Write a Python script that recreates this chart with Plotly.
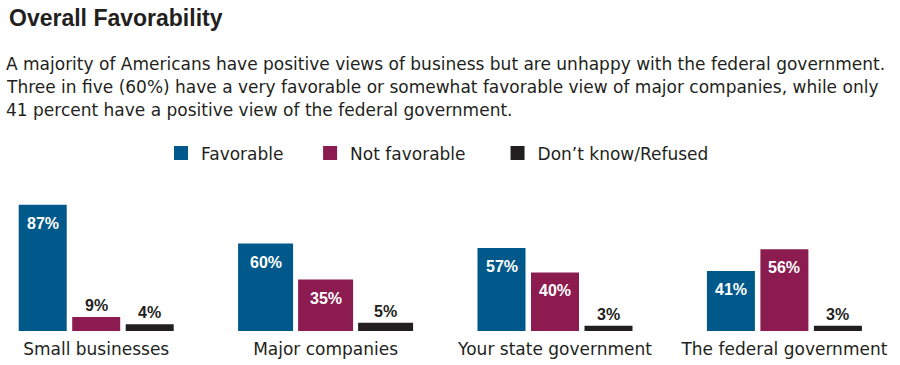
import plotly.graph_objects as go

# ---------------- data ----------------
categories = ["Small businesses", "Major companies", "Your state government", "The federal government"]
series_names = ["Favorable", "Not favorable", "Don\u2019t know/Refused"]
favorable = [87, 60, 57, 41]
not_favorable = [9, 35, 40, 56]
dont_know = [4, 5, 3, 3]
series_values = [favorable, not_favorable, dont_know]

title_text = "Overall Favorability"
subtitle_lines = [
    "A majority of Americans have positive views of business but are unhappy with the federal government.",
    "Three in five (60%) have a very favorable or somewhat favorable view of major companies, while only",
    "41 percent have a positive view of the federal government.",
]

# ---------------- style ----------------
colors = ["#00598A", "#8C1C4F", "#231F20"]
TEXT = "#231F20"
BODY_FONT = "DejaVu Sans"
W, H = 900, 365
PLOT_TOP, PLOT_BOTTOM = 187, 331          # pixel rows of 100% and 0%
U = 229.4                                 # pixels per category step
X0 = 96.2                                 # pixel of first category
LINE_W = 2                                # bar outline (same colour) -> bigger legend swatch
bar_w_px = [48, 55, 48, 48]               # visible bar width per group
slot_px = [53.5, 60, 53.5, 53.5]          # centre-to-centre distance per group
legend_pad = ["\u00a0" * 4, "\u00a0" * 5, ""]


def py(px):
    """pixel row -> paper y"""
    return (PLOT_BOTTOM - px) / (PLOT_BOTTOM - PLOT_TOP)


fig = go.Figure()
xs = list(range(len(categories)))
for k, (name, vals) in enumerate(zip(series_names, series_values)):
    widths = [(w - LINE_W) / U for w in bar_w_px]
    offsets = [((k - 1) * s - (w - LINE_W) / 2) / U for s, w in zip(slot_px, bar_w_px)]
    fig.add_trace(go.Bar(
        x=xs, y=vals, name=name + legend_pad[k],
        width=widths, offset=offsets,
        marker=dict(color=colors[k], line=dict(width=LINE_W, color=colors[k])),
        hoverinfo="skip",
    ))
    for i, v in enumerate(vals):
        xc = i + (k - 1) * slot_px[i] / U
        inside = v >= 20
        fig.add_annotation(
            x=xc, y=v, xref="x", yref="y",
            text=f"<b>{v}%</b>", showarrow=False,
            xanchor="center", yanchor="top" if inside else "bottom",
            yshift=-7 if inside else 2,
            font=dict(family="Liberation Sans, Arial", size=16,
                      color="white" if inside else TEXT),
        )

# title
fig.add_annotation(
    x=7 / W, y=py(3), xref="paper", yref="paper", xanchor="left", yanchor="top",
    text=f"<b>{title_text}</b>", showarrow=False,
    font=dict(family="Liberation Sans Narrow, Liberation Sans, Arial", size=23, color=TEXT),
)
# subtitle, one annotation per line
for j, line in enumerate(subtitle_lines):
    fig.add_annotation(
        x=4 / W, y=py(52 + 23 * j), xref="paper", yref="paper", xanchor="left", yanchor="top",
        text=line, showarrow=False,
        font=dict(family=BODY_FONT, size=17, color=TEXT),
    )

fig.update_layout(
    width=W, height=H, autosize=False,
    margin=dict(l=0, r=0, t=PLOT_TOP, b=H - PLOT_BOTTOM, pad=0),
    paper_bgcolor="white", plot_bgcolor="white",
    barmode="overlay",
    showlegend=True,
    legend=dict(
        orientation="h", x=161 / W, xanchor="left", y=py(153.5), yanchor="middle",
        font=dict(family=BODY_FONT, size=17, color=TEXT),
        bgcolor="rgba(0,0,0,0)", traceorder="normal",
    ),
    xaxis=dict(
        type="linear", range=[-X0 / U, (W - X0) / U],
        tickvals=xs, ticktext=categories,
        showgrid=False, zeroline=False, showline=False, ticks="",
        ticklabelstandoff=6,
        tickfont=dict(family=BODY_FONT, size=17, color=TEXT),
        fixedrange=True,
    ),
    yaxis=dict(
        range=[0, 100], visible=False, showgrid=False, zeroline=False, fixedrange=True,
    ),
)

fig.write_html(
    "out.html",
    config={"displayModeBar": False},
    post_script="document.body.style.margin='0';document.body.style.overflow='hidden';",
)
